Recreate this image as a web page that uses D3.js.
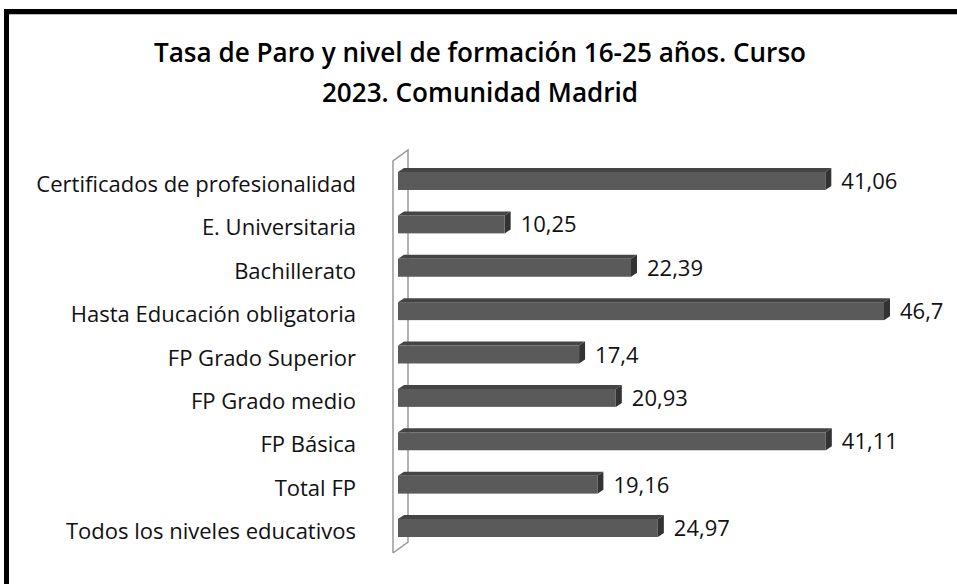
<!DOCTYPE html>
<html><head><meta charset="utf-8">
<script src="https://cdn.jsdelivr.net/npm/d3@7"></script>
<style>html,body{margin:0;padding:0;background:#fff;}svg{display:block;}</style>
</head><body>
<svg id="c" width="957" height="584"></svg>
<script>
const categories = ["Certificados de profesionalidad","E. Universitaria","Bachillerato","Hasta Educación obligatoria","FP Grado Superior","FP Grado medio","FP Básica","Total FP","Todos los niveles educativos"];
const values = [41.06,10.25,22.39,46.7,17.4,20.93,41.11,19.16,24.97];
const valueLabels = ["41,06","10,25","22,39","46,7","17,4","20,93","41,11","19,16","24,97"];
const titleLines = ["Tasa de Paro y nivel de formación 16-25 años. Curso","2023. Comunidad  Madrid"];

const svg = d3.select("#c");
const font = "'Open Sans', sans-serif";

function fitSize(str, weight, target, base){
  const t = svg.append("text").attr("font-family",font).attr("font-weight",weight).attr("font-size",base).text(str);
  const w = t.node().getComputedTextLength(); t.remove();
  return base*target/w;
}
const labelSize = fitSize(categories[0],"normal",320,20);
const titleSize = fitSize(titleLines[0],"bold",670,22);

// frame
svg.append("rect").attr("x",0).attr("y",0).attr("width",957).attr("height",584).attr("fill","#fff");
svg.append("line").attr("x1",6.5).attr("x2",957).attr("y1",14.5).attr("y2",14.5).attr("stroke","#bbb").attr("stroke-width",1);
svg.append("path").attr("d","M6.5,584 V11.5 H957").attr("fill","none").attr("stroke","#000").attr("stroke-width",5);

// title
svg.append("g").selectAll("text").data(titleLines).join("text")
  .attr("x",480).attr("y",(d,i)=>62+i*40)
  .attr("text-anchor","middle").attr("font-family",font).attr("font-weight","600")
  .attr("font-size",titleSize).attr("fill","#000").text(d=>d);

const x = d3.scaleLinear().domain([0,46.7]).range([398,884]);
const y = d3.scalePoint().domain(categories).range([181,528]);
const h = 18, dx = 6, dy = 4;

// wall
const wall = svg.append("g").attr("fill","none").attr("stroke","#999").attr("stroke-width",1.5);
wall.append("path").attr("d",`M393,553 V161 L408,150 V542 L393,553`);

const g = svg.append("g");
categories.forEach((c,i)=>{
  const cy = y(c), x0 = x(0), x1 = x(values[i]);
  const top = cy - h/2, bot = cy + h/2;
  g.append("path").attr("d",`M${x0},${top} L${x0+dx},${top-dy} L${x1+dx},${top-dy} L${x1},${top} Z`).attr("fill","#444");
  g.append("path").attr("d",`M${x1},${top} L${x1+dx},${top-dy} L${x1+dx},${bot-dy} L${x1},${bot} Z`).attr("fill","#333");
  g.append("rect").attr("x",x0).attr("y",top).attr("width",x1-x0).attr("height",h).attr("fill","#5a5a5a");
  g.append("text").attr("x",x1+dx+10).attr("y",cy+8).attr("font-family",font).attr("font-size",labelSize).attr("fill","#111").text(valueLabels[i]);
  g.append("text").attr("x",356).attr("y",cy+11).attr("text-anchor","end").attr("font-family",font).attr("font-size",labelSize).attr("fill","#111").text(c);
});
</script>
</body></html>
